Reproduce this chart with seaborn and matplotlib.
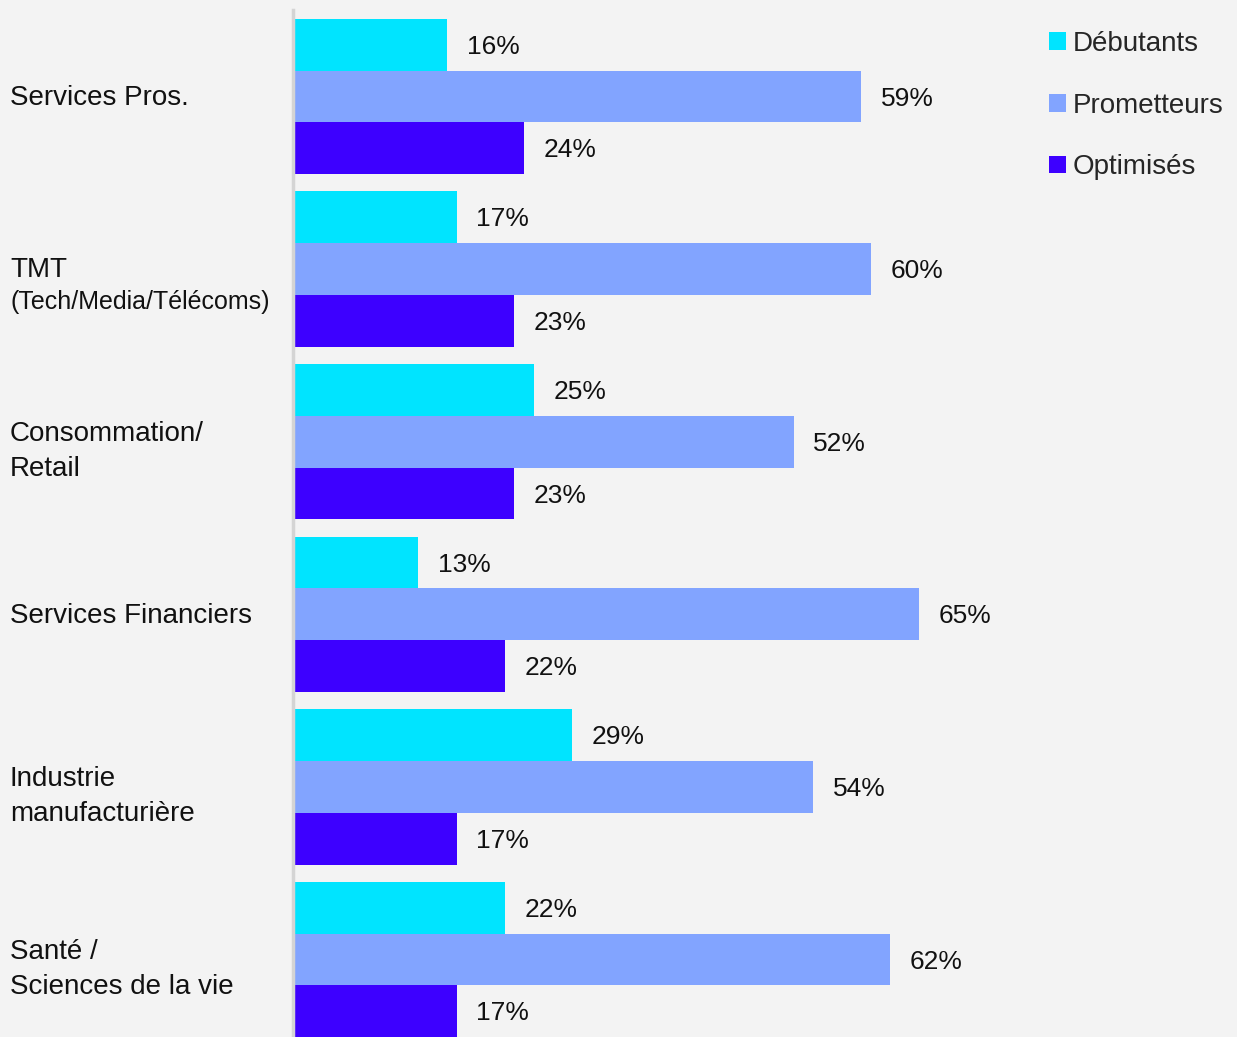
import matplotlib
matplotlib.use("Agg")
from matplotlib import pyplot as plt
from matplotlib.transforms import blended_transform_factory
import pandas as pd
import seaborn as sns

# données
secteurs = ["Services Pros.", "TMT\n(Tech/Media/Télécoms)", "Consommation/\nRetail",
            "Services Financiers", "Industrie\nmanufacturière", "Santé /\nSciences de la vie"]
niveaux = ["Débutants", "Prometteurs", "Optimisés"]
debutants = [16, 17, 25, 13, 29, 22]
prometteurs = [59, 60, 52, 65, 54, 62]
optimises = [24, 23, 23, 22, 17, 17]

couleurs = ["#00E4FF", "#82A4FF", "#3D00FF"]
fond = "#F3F3F3"

sns.set_style("white")
plt.rcParams["font.family"] = ["Liberation Sans", "DejaVu Sans"]

df = pd.DataFrame({
    "secteur": secteurs * 3,
    "niveau": [n for n in niveaux for _ in secteurs],
    "valeur": debutants + prometteurs + optimises,
})

W, H = 1237, 1037
fig = plt.figure(figsize=(W / 100, H / 100), dpi=100, facecolor=fond)
ax = fig.add_axes([293 / W, 0, (1030 - 293) / W, 1027 / H])
ax.set_facecolor(fond)

sns.barplot(data=df, y="secteur", x="valeur", hue="niveau", orient="h",
            palette=couleurs, saturation=1, width=0.9, errorbar=None,
            linewidth=0, ax=ax)

ax.set_xlim(0, (1030 - 293) / 9.63)
ax.set_ylim(5.449, -0.501)

# étiquettes de valeurs
for cont in ax.containers:
    textes = ax.bar_label(cont, fmt="%d%%", padding=14, fontsize=19, color="#111111")
    for t in textes:
        t.set_position((14, -1.5))

# axes
for s in ["top", "right", "bottom"]:
    ax.spines[s].set_visible(False)
ax.spines["left"].set_color("#D4D4D4")
ax.spines["left"].set_linewidth(2.5)
ax.set_xticks([])
ax.set_yticks([])
ax.set_xlabel("")
ax.set_ylabel("")

# libellés des secteurs, alignés à gauche
trans = blended_transform_factory(fig.transFigure, ax.transData)
for i, lab in enumerate(secteurs):
    lignes = lab.split("\n")
    if len(lignes) == 1:
        decal = [2]
    elif lignes[1].startswith("("):
        decal = [0.5, 32.5]
    else:
        decal = [-8, 27]
    for j, ligne in enumerate(lignes):
        taille = 18 if ligne.startswith("(") else 20
        ax.annotate(ligne, xy=(10 / W, i), xycoords=trans,
                    xytext=(0, -decal[j] * 0.72), textcoords="offset points",
                    ha="left", va="center", fontsize=taille, color="#111111",
                    annotation_clip=False)

# légende
handles, labels = ax.get_legend_handles_labels()
ax.legend(handles, labels, loc="upper left", bbox_to_anchor=(1049 / W, 1 - 31 / H),
          bbox_transform=fig.transFigure, frameon=False, fontsize=20,
          handlelength=0.6, handleheight=0.6, handletextpad=0.25,
          labelspacing=1.28, borderpad=0, borderaxespad=0)

plt.savefig("out.png", dpi=100, facecolor=fond)
